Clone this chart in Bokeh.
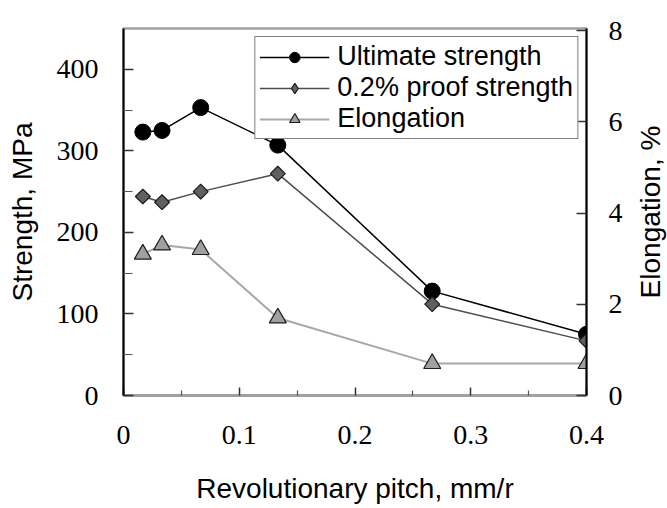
import math
from bokeh.plotting import figure
from bokeh.layouts import row
from bokeh.models import (Range1d, LinearAxis, FixedTicker, Legend, LegendItem,
                          CustomJSTickFormatter, Title)
from bokeh.embed import file_html
from bokeh.resources import INLINE

# ---- data ----
pitch = [0.0167, 0.0333, 0.0667, 0.1333, 0.2667, 0.4]
ultimate = [323, 325, 353, 307, 128, 75]
proof = [244, 237, 250, 272, 112, 67]
elongation = [3.1, 3.3, 3.2, 1.7, 0.7, 0.7]

x_ticks = [0, 0.1, 0.2, 0.3, 0.4]
x_minor = [0.05, 0.15, 0.25, 0.35]
y_ticks = [0, 100, 200, 300, 400]
y_minor = [50, 150, 250, 350]
el_ticks = [0, 2, 4, 6, 8]

SERIF = "Liberation Serif"
SANS = "Liberation Sans"

p = figure(width=632, height=508, output_backend="svg", toolbar_location=None,
           x_range=Range1d(0, 0.4), y_range=Range1d(0, 450),
           min_border_left=123, min_border_right=46, min_border_top=28, min_border_bottom=113)
p.extra_y_ranges = {"el": Range1d(0, 8.05)}
p.grid.visible = False
p.outline_line_color = "#a0a0a0"
p.outline_line_width = 2.5
p.background_fill_color = "white"
p.border_fill_color = "white"


def style(ax, tick_in, minor_in, standoff, label_standoff, color="black", width=2):
    ax.axis_line_color = color
    ax.axis_line_width = width
    ax.major_tick_in = tick_in
    ax.major_tick_out = 0
    ax.minor_tick_in = minor_in
    ax.minor_tick_out = 0
    ax.major_tick_line_color = "#333333"
    ax.minor_tick_line_color = "#555555"
    ax.major_tick_line_width = 1.5
    ax.minor_tick_line_width = 1.2
    ax.major_label_text_font = SERIF
    ax.major_label_text_font_size = "28px"
    ax.major_label_text_color = "black"
    ax.major_label_standoff = standoff
    ax.axis_label_text_font = SANS
    ax.axis_label_text_font_size = "28px"
    ax.axis_label_text_font_style = "normal"
    ax.axis_label_text_color = "black"
    ax.axis_label_standoff = label_standoff


xa = p.xaxis[0]
xa.ticker = FixedTicker(ticks=x_ticks, minor_ticks=x_minor)
xa.formatter = CustomJSTickFormatter(code="return tick == 0 ? '0' : tick.toFixed(1);")
xa.axis_label = "Revolutionary pitch, mm/r"
style(xa, 8, 5, 30, 26, color="#a0a0a0", width=3)

ya = p.yaxis[0]
ya.ticker = FixedTicker(ticks=y_ticks, minor_ticks=y_minor)
ya.axis_label = "Strength, MPa"
style(ya, 10, 9, 25, 16)

ra = LinearAxis(y_range_name="el")
ra.ticker = FixedTicker(ticks=el_ticks, minor_ticks=[])
style(ra, 10, 0, 22, 11)
p.add_layout(ra, "right")

# ---- series ----
l1 = p.line(pitch, ultimate, line_color="black", line_width=1.5)
s1 = p.scatter(pitch, ultimate, marker="circle", size=16, fill_color="black", line_color="black")

l2 = p.line(pitch, proof, line_color="#4d4d4d", line_width=1.5)
s2 = p.scatter(pitch, proof, marker="square", angle=math.pi / 4, size=10.5,
               fill_color="#606060", line_color="#1a1a1a", line_width=1.2)
# legend swatch for the proof series (hidden in the plot; legends ignore marker angle)
s2_key = p.scatter(pitch, proof, marker="diamond", size=15, visible=False,
                   fill_color="#606060", line_color="#1a1a1a", line_width=1.2)

l3 = p.line(pitch, elongation, y_range_name="el", line_color="#a8a8a8", line_width=2)
s3 = p.scatter(pitch, elongation, y_range_name="el", marker="triangle", size=17,
               fill_color="#a0a0a0", line_color="#1a1a1a", line_width=1.2)

legend = Legend(items=[
    LegendItem(label="Ultimate strength", renderers=[l1, s1]),
    LegendItem(label="0.2% proof strength", renderers=[l2, s2_key]),
    LegendItem(label="Elongation", renderers=[l3, s3]),
], location="top_right")
legend.margin = 8
legend.padding = 4
legend.spacing = -6
legend.glyph_width = 70
legend.glyph_height = 26
legend.label_height = 26
legend.label_standoff = 8
legend.label_text_font = SANS
legend.label_text_font_size = "27px"
legend.label_text_color = "black"
legend.border_line_color = "black"
legend.border_line_width = 1.5
legend.background_fill_alpha = 1.0
p.add_layout(legend)

# ---- right-hand title strip: "Elongation, %" reading bottom-to-top ----
p2 = figure(width=35, height=508, output_backend="svg", toolbar_location=None,
            x_axis_location=None, y_axis_location=None,
            min_border_left=0, min_border_right=0, min_border_top=28, min_border_bottom=113)
p2.grid.visible = False
p2.outline_line_color = None
p2.background_fill_color = "white"
p2.border_fill_color = "white"
t = Title(text="Elongation, %", align="center", text_font=SANS, text_font_size="28px",
          text_font_style="normal", text_color="black")
try:
    t.standoff = 0
except Exception:
    pass
p2.add_layout(t, "left")

layout = row(p, p2)
open("out.html", "w").write(file_html(layout, INLINE))
